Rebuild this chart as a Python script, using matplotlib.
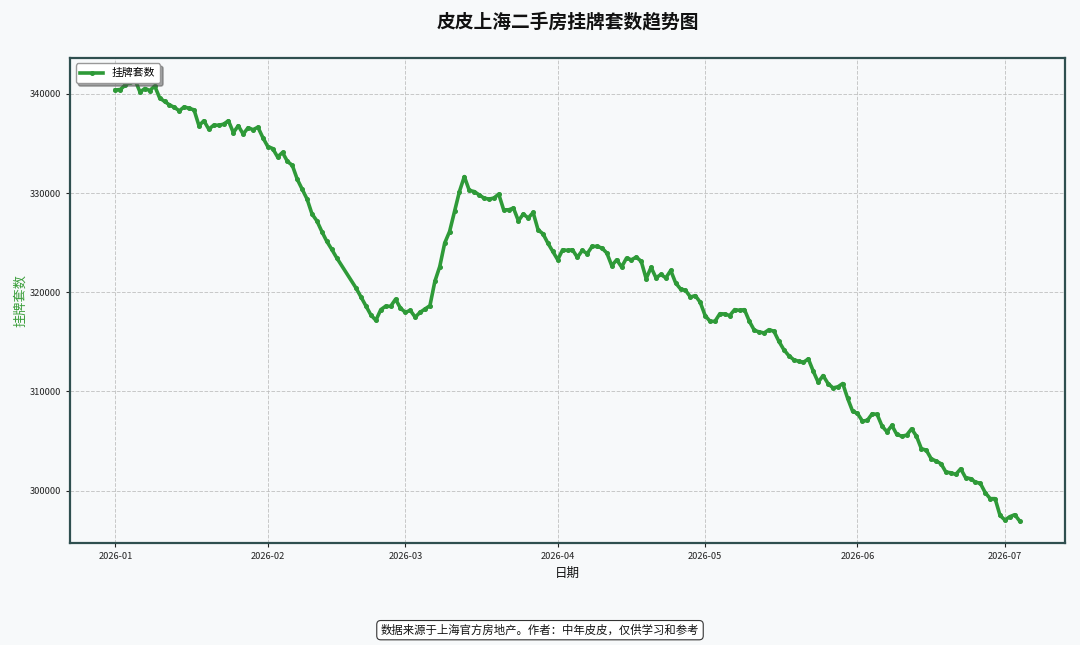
import matplotlib
matplotlib.use("Agg")
import matplotlib.pyplot as plt
import matplotlib.dates as mdates
import pandas as pd

plt.rcParams['font.family'] = ['Noto Sans CJK SC', 'DejaVu Sans']
plt.rcParams['axes.unicode_minus'] = False

# ---- data (daily listing counts) ----
jan_values = [340400, 340450, 340900, 341200, 341400, 340200, 340550, 340350, 340800, 339600,
              339250, 338900, 338650, 338300, 338700, 338550, 338400, 336800, 337300, 336450,
              336850, 336850, 336950, 337300, 336100, 336800, 335950, 336600, 336400, 336650,
              335600]
feb_values = [334700, 334500, 333650, 334100, 333200, 332800, 331400, 330400, 329400, 327900,
              327200, 326130, 325150, 324350, 323500,
              320400, 319500, 318580, 317700, 317170, 318250, 318600, 318580, 319300, 318400]
feb_days = list(range(1, 16)) + list(range(19, 29))
mar_values = [317980, 318180, 317490, 317980, 318320, 318650, 321100, 322600, 324960, 326130,
              328150, 330160, 331670, 330280, 330160, 329830, 329500, 329400, 329500, 329900,
              328320, 328320, 328490, 327210, 327890, 327490, 328050, 326300, 325900, 324960,
              324120]
apr_values = [323280, 324290, 324220, 324290, 323520, 324220, 323890, 324630, 324630, 324460,
              323960, 322680, 323280, 322550, 323450, 323280, 323550, 323110, 321370, 322520,
              321450, 321800, 321450, 322200, 320940, 320330, 320200, 319530, 319660, 318990]
may_values = [317650, 317070, 317070, 317840, 317810, 317650, 318250, 318180, 318250, 317070,
              316170, 316000, 315900, 316230, 316070, 315060, 314220, 313620, 313210, 313040,
              312940, 313280, 312040, 310930, 311600, 310800, 310360, 310460, 310800, 309300,
              308010]
jun_values = [307780, 307010, 307080, 307750, 307680, 306500, 305930, 306570, 305660, 305490,
              305590, 306230, 305490, 304220, 304080, 303210, 302980, 302710, 301860, 301800,
              301630, 302200, 301300, 301200, 300860, 300730, 299790, 299190, 299190, 297500]
jul_values = [297030, 297370, 297570, 296930]

series_label = '挂牌套数'
title_text = '皮皮上海二手房挂牌套数趋势图'
xlabel_text = '日期'
footer_text = '数据来源于上海官方房地产。作者：中年皮皮，仅供学习和参考'

# build date / value table
months = [
    (1, list(range(1, 32)), jan_values),
    (2, feb_days, feb_values),
    (3, list(range(1, 32)), mar_values),
    (4, list(range(1, 31)), apr_values),
    (5, list(range(1, 32)), may_values),
    (6, list(range(1, 31)), jun_values),
    (7, list(range(1, 5)), jul_values),
]
dates, values = [], []
for m, days, vals in months:
    for d, v in zip(days, vals):
        dates.append(pd.Timestamp(2026, m, d))
        values.append(v)
df = pd.DataFrame({'date': dates, 'count': values})

# ---- figure ----
bg = '#f7f9fa'
fig = plt.figure(figsize=(10.8, 6.45), dpi=100, facecolor=bg)
ax = fig.add_axes([0.065, 0.158, 0.921, 0.752])
ax.set_facecolor(bg)

green = '#2e9a38'
ax.plot(df['date'], df['count'], color=green, linewidth=2.6, marker='o', markersize=2.6,
        label=series_label)

ax.grid(True, linestyle='--', color='#bbbbbb', linewidth=0.7, alpha=0.8)
ax.set_axisbelow(True)

for sp in ax.spines.values():
    sp.set_color('#2f4f4f')
    sp.set_linewidth(1.6)

ax.xaxis.set_major_locator(mdates.MonthLocator())
ax.xaxis.set_major_formatter(mdates.DateFormatter('%Y-%m'))
ax.ticklabel_format(axis='y', style='plain', useOffset=False)
ax.tick_params(axis='both', labelsize=6.7, colors='#222222', length=3)

ax.set_title(title_text, fontsize=13.5, fontweight='bold', pad=22, color='#111111')
ax.set_xlabel(xlabel_text, fontsize=9, color='#111111', labelpad=4)
ax.set_ylabel(series_label, fontsize=9.5, color='#3a9e3a', labelpad=2)

leg = ax.legend(loc='upper left', fontsize=7.8, shadow=True, fancybox=True, framealpha=1,
                borderpad=0.45, handlelength=2.1, borderaxespad=0.5)
leg.get_frame().set_edgecolor('#999999')

fig.text(0.5, 0.023, footer_text, ha='center', va='center', fontsize=8.2, color='#111111',
         bbox=dict(boxstyle='round,pad=0.35', facecolor='white', edgecolor='#333333', linewidth=0.8))

fig.savefig('out.png', dpi=100, facecolor=bg)
